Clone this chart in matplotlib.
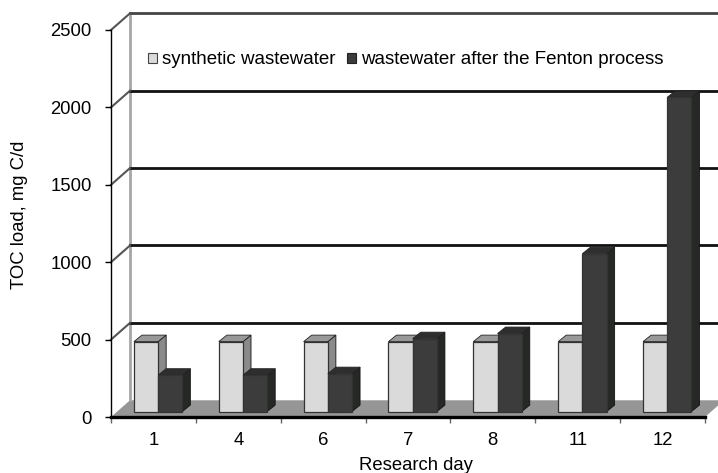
import matplotlib
matplotlib.use('Agg')
from matplotlib import pyplot as plt
from matplotlib.patches import Polygon, Patch

plt.rcParams['font.family'] = ['Liberation Sans', 'DejaVu Sans']

days = ['1', '4', '6', '7', '8', '11', '12']
synthetic = [452, 452, 452, 452, 452, 452, 452]
fenton = [235, 235, 245, 471, 504, 1020, 2030]
y_ticks = [0, 500, 1000, 1500, 2000, 2500]

LIGHT = ('#dadada', '#999999', '#8a8a8a')
DARK = ('#3c3c3c', '#2e2e2e', '#262826')

# 3D look: offsets in data units
wall_dx = 0.224
wall_dy = 108
bar_dx = 0.095
bar_dy = 42
lift_y = 35
bar_w = 0.285
bar_start = 0.27


def box(ax, x, h, cols):
    # front, side and top of one bar
    y0 = lift_y
    y1 = lift_y + h
    x1 = x + bar_w
    ax.add_patch(Polygon([(x1, y0), (x1 + bar_dx, y0 + bar_dy), (x1 + bar_dx, y1 + bar_dy), (x1, y1)],
                         fc=cols[2], ec='#111111', lw=0.6, clip_on=False, zorder=3))
    ax.add_patch(Polygon([(x, y1), (x1, y1), (x1 + bar_dx, y1 + bar_dy), (x + bar_dx, y1 + bar_dy)],
                         fc=cols[1], ec='#222222', lw=0.6, clip_on=False, zorder=3))
    ax.add_patch(Polygon([(x, y0), (x1, y0), (x1, y1), (x, y1)],
                         fc=cols[0], ec='#333333', lw=0.9, clip_on=False, zorder=3))


fig = plt.figure(figsize=(7.18, 4.73), dpi=100)
ax = fig.add_axes([111 / 718, 1 - 417 / 473, 594 / 718, 387 / 473])
ax.set_xlim(0, len(days))
ax.set_ylim(0, 2500)

n = len(days)

# floor
ax.add_patch(Polygon([(0, 0), (n, 0), (n + wall_dx, wall_dy), (wall_dx, wall_dy)],
                     fc='#969696', ec='none', clip_on=False, zorder=1))

# back wall edge and grid lines
ax.plot([wall_dx, wall_dx], [wall_dy, 2500 + wall_dy], color='#a6a6a6', lw=2, clip_on=False, zorder=1)
for v in y_ticks[1:]:
    ax.plot([wall_dx, n + wall_dx], [v + wall_dy, v + wall_dy], color='#111111' if v < 2500 else '#444444',
            lw=2, clip_on=False, zorder=1)
    ax.plot([0, wall_dx], [v, v + wall_dy], color='#555555', lw=1.5, clip_on=False, zorder=1)

for i in range(n):
    box(ax, i + bar_start, synthetic[i], LIGHT)
for i in range(n):
    box(ax, i + bar_start + bar_w, fenton[i], DARK)

for s in ['top', 'right']:
    ax.spines[s].set_visible(False)
ax.spines['left'].set_linewidth(1)
ax.spines['bottom'].set_linewidth(2.4)
ax.spines['bottom'].set_zorder(4)
ax.patch.set_alpha(0)

ax.set_yticks(y_ticks)
ax.set_xticks(range(n + 1))
ax.set_xticklabels([])
ax.set_xticks([i + 0.5 for i in range(n)], minor=True)
ax.set_xticklabels(days, minor=True)
ax.tick_params(axis='x', which='minor', length=0, labelsize=13.3, pad=11)
ax.tick_params(axis='x', which='major', length=4, width=1, color='#666666')
ax.tick_params(axis='y', length=4.5, width=1, labelsize=13.3, pad=9.5)

fig.text(416 / 718, 1 - 465 / 473, 'Research day', ha='center', va='center', fontsize=13.3)
fig.text(20 / 718, 1 - 215 / 473, 'TOC load, mg C/d', rotation=90, ha='center', va='center', fontsize=13.3)

handles = [Patch(fc=LIGHT[0], ec='#444444', lw=0.8), Patch(fc=DARK[0], ec='#222222', lw=0.8)]
ax.legend(handles, ['synthetic wastewater', 'wastewater after the Fenton process'],
          ncols=2, frameon=False, fontsize=13.5, handlelength=0.5, handleheight=0.45,
          handletextpad=0.25, columnspacing=0.6, borderpad=0, borderaxespad=0,
          loc='center left', bbox_to_anchor=(37 / 594, 1 - 30 / 387))

fig.savefig('out.png', dpi=100)
